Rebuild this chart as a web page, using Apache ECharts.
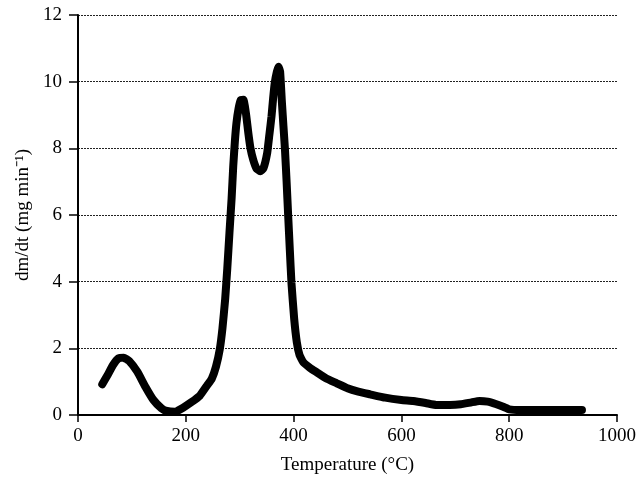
<!DOCTYPE html>
<html>
<head>
<meta charset="utf-8">
<script src="https://cdn.jsdelivr.net/npm/echarts@6/dist/echarts.min.js"></script>
<style>html,body{margin:0;padding:0;background:#fff}#c{width:639px;height:480px}</style>
</head>
<body>
<div id="c"></div>
<script>
const temperature = [45, 55, 65, 75, 85, 95, 110, 125, 140, 155, 165, 180, 195, 210, 226, 240, 248, 256, 263, 268, 273, 277, 281, 285, 288, 291, 294, 298, 302, 307, 312, 316, 320, 325, 331, 338, 344, 351, 355, 359, 362, 365, 369, 372, 375, 378, 381, 384, 387, 390, 393, 396, 401, 406, 411, 418, 430, 443, 460, 480, 500, 520, 542, 570, 600, 622, 645, 665, 690, 710, 730, 745, 760, 775, 790, 800, 820, 850, 880, 910, 935];
const dmdt = [0.92, 1.2, 1.5, 1.7, 1.72, 1.62, 1.3, 0.85, 0.45, 0.2, 0.12, 0.1, 0.22, 0.38, 0.58, 0.9, 1.08, 1.45, 1.97, 2.6, 3.47, 4.4, 5.47, 6.5, 7.46, 8.2, 8.76, 9.2, 9.45, 9.46, 9.0, 8.46, 8.0, 7.66, 7.4, 7.31, 7.4, 7.86, 8.4, 8.96, 9.5, 9.96, 10.3, 10.45, 10.3, 9.46, 8.7, 7.96, 7.0, 5.96, 4.95, 3.97, 2.9, 2.18, 1.8, 1.58, 1.42, 1.28, 1.1, 0.95, 0.8, 0.7, 0.62, 0.52, 0.45, 0.42, 0.36, 0.3, 0.3, 0.32, 0.38, 0.42, 0.4, 0.33, 0.24, 0.17, 0.15, 0.15, 0.15, 0.15, 0.15];
const xTicks = [0, 200, 400, 600, 800, 1000];
const yTicks = [0, 2, 4, 6, 8, 10, 12];

const font = 'Liberation Serif';
const chart = echarts.init(document.getElementById('c'));
chart.setOption({
  animation: false,
  backgroundColor: '#fff',
  grid: {left: 78, right: 22, top: 15, bottom: 64},
  xAxis: {
    type: 'value', min: xTicks[0], max: xTicks[xTicks.length - 1], interval: 200,
    name: 'Temperature (°C)', nameLocation: 'middle', nameGap: 41,
    nameTextStyle: {fontFamily: font, fontSize: 19, color: '#000'},
    axisLine: {onZero: false, lineStyle: {color: '#000', width: 2}},
    axisTick: {show: true, length: 7, lineStyle: {color: '#000', width: 1.5}},
    axisLabel: {fontFamily: font, fontSize: 19, color: '#000', margin: 12, formatter: v => String(v)},
    splitLine: {show: false}
  },
  yAxis: {
    type: 'value', min: yTicks[0], max: yTicks[yTicks.length - 1], interval: 2,
    name: 'dm/dt (mg min⁻¹)', nameLocation: 'middle', nameGap: 45, nameRotate: 90,
    nameTextStyle: {fontFamily: font, fontSize: 19, color: '#000'},
    axisLine: {show: true, lineStyle: {color: '#000', width: 2}},
    axisTick: {show: true, length: 9, lineStyle: {color: '#000', width: 1.5}},
    axisLabel: {fontFamily: font, fontSize: 19, color: '#000', margin: 16},
    splitLine: {show: true, lineStyle: {color: '#222', type: [2, 1], width: 1}}
  },
  series: [{
    type: 'line',
    data: temperature.map((t, i) => [t, dmdt[i]]),
    showSymbol: false,
    smooth: 0.12,
    lineStyle: {color: '#000', width: 8, cap: 'round', join: 'round'}
  }]
});
</script>
</body>
</html>
